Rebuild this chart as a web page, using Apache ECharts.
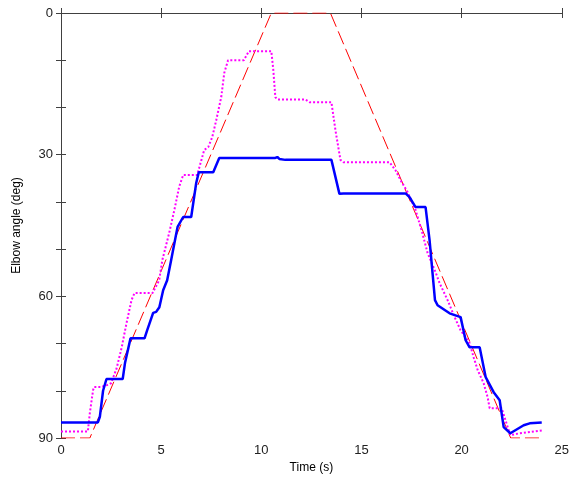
<!DOCTYPE html>
<html>
<head>
<meta charset="utf-8">
<script src="https://cdn.jsdelivr.net/npm/echarts@6/dist/echarts.min.js"></script>
<style>
  html, body { margin: 0; padding: 0; background: #fff; }
  #chart { width: 572px; height: 480px; }
</style>
</head>
<body>
<div id="chart"></div>
<script>
  // reference trajectory (dashed red)
  var refTime  = [0, 1.44, 10.5, 13.45, 22.45, 24];
  var refAngle = [90, 90, 0, 0, 90, 90];

  // measured elbow angle (solid blue)
  var blueTime  = [0, 1.84, 1.94, 2.1, 2.27, 3.08, 3.2, 3.47, 4.17, 4.3, 4.6, 4.75, 4.91, 5.1, 5.3, 5.5, 5.76, 5.82, 6.1, 6.5, 6.75, 6.88, 7.6, 7.9, 10.7, 10.8, 10.9, 11.2, 13.5, 13.9, 14.1, 17.2, 17.4, 17.7, 18.2, 18.4, 18.67, 18.8, 19.4, 19.95, 20.2, 20.4, 20.9, 21.2, 21.6, 21.9, 22.1, 22.43, 23.1, 23.4, 24.0];
  var blueAngle = [86.7, 86.7, 85.5, 80, 77.5, 77.5, 74, 68.9, 68.9, 67.2, 63.5, 63.3, 62.3, 58.7, 56.6, 52.3, 46.6, 45.3, 43.2, 43.2, 36, 33.7, 33.7, 30.7, 30.7, 30.5, 30.9, 31.1, 31.1, 38.3, 38.2, 38.2, 39, 41.1, 41.1, 48.1, 60.8, 61.9, 63.6, 64.4, 69.3, 70.8, 70.8, 77.1, 80.3, 82, 87.7, 89, 87.3, 86.9, 86.7];

  // second measurement (dotted magenta)
  var magTime  = [0, 1.34, 1.44, 1.6, 1.65, 2.0, 2.3, 2.5, 2.78, 3.03, 3.27, 3.52, 3.67, 4.57, 4.9, 5.06, 5.4, 5.66, 5.9, 6.1, 6.8, 7.15, 7.35, 7.55, 7.75, 8.0, 8.15, 8.34, 9.13, 9.38, 10.5, 10.6, 10.7, 10.8, 12.2, 12.4, 13.5, 13.7, 13.95, 14.1, 16.4, 16.7, 16.95, 17.3, 17.7, 18.0, 18.3, 18.7, 18.9, 19.3, 19.65, 19.95, 20.4, 20.6, 20.8, 21.1, 21.3, 21.4, 22.0, 22.3, 22.43, 22.9, 23.3, 24.0];
  var magAngle = [88.6, 88.6, 84.7, 79.9, 79.2, 79.2, 78.8, 78.4, 75.2, 70.8, 65.7, 60.8, 59.3, 59.3, 56.6, 52.3, 46.6, 41.7, 36.8, 34.3, 34.3, 29, 28.4, 26.3, 22.7, 17.8, 12.7, 10, 10, 8.1, 8.1, 12.1, 17.8, 18.3, 18.3, 18.9, 18.9, 24.8, 31.1, 31.6, 31.6, 33.3, 35.4, 37.9, 41.7, 46.0, 50.8, 54.9, 57.2, 60.8, 64.4, 67.2, 69.9, 72.9, 75.6, 78.4, 81.4, 83.7, 83.7, 87.7, 89.4, 89, 88.8, 88.4];

  var yLabels = [0, 30, 60, 90];

  function pairs(t, a) {
    var out = [];
    for (var i = 0; i < t.length; i++) out.push([t[i], a[i]]);
    return out;
  }

  var axisColor = '#404040';
  var font = 'Liberation Sans, Arial, sans-serif';

  var chart = echarts.init(document.getElementById('chart'));
  chart.setOption({
    animation: false,
    grid: {left: 61, right: 7, top: 13, bottom: 42},
    xAxis: [
      {
        type: 'value', min: 0, max: 25, interval: 5,
        name: 'Time (s)', nameLocation: 'middle', nameGap: 21,
        nameTextStyle: {color: '#000', fontSize: 12, fontFamily: font},
        axisLine: {lineStyle: {color: axisColor, width: 1}},
        axisTick: {inside: true, length: 5, lineStyle: {color: axisColor}},
        axisLabel: {color: '#222', fontSize: 13, fontFamily: font, margin: 6},
        splitLine: {show: false}
      },
      {
        type: 'value', min: 0, max: 25, interval: 5, position: 'top',
        axisLine: {lineStyle: {color: axisColor, width: 1}},
        axisTick: {inside: true, length: 5, lineStyle: {color: axisColor}},
        axisLabel: {show: false},
        splitLine: {show: false}
      }
    ],
    yAxis: [
      {
        type: 'value', min: 0, max: 90, interval: 10, inverse: true,
        name: 'Elbow angle (deg)', nameLocation: 'middle', nameGap: 38,
        nameTextStyle: {color: '#000', fontSize: 12, fontFamily: font},
        axisLine: {lineStyle: {color: axisColor, width: 1}},
        axisTick: {inside: true, length: 5, lineStyle: {color: axisColor}},
        axisLabel: {
          color: '#222', fontSize: 13, fontFamily: font, margin: 8,
          formatter: function (v) { return yLabels.indexOf(v) >= 0 ? String(v) : ''; }
        },
        splitLine: {show: false}
      },
      {
        type: 'value', min: 0, max: 90, interval: 10, inverse: true, position: 'right',
        axisLine: {lineStyle: {color: axisColor, width: 1}},
        axisTick: {inside: true, length: 5, lineStyle: {color: axisColor}},
        axisLabel: {show: false},
        splitLine: {show: false}
      }
    ],
    series: [
      {
        type: 'line', data: pairs(refTime, refAngle), showSymbol: false,
        lineStyle: {color: '#ff0000', width: 1, type: [14, 5]}
      },
      {
        type: 'line', data: pairs(magTime, magAngle), showSymbol: false,
        lineStyle: {color: '#ff00ff', width: 2, type: [2, 2]}
      },
      {
        type: 'line', data: pairs(blueTime, blueAngle), showSymbol: false,
        lineStyle: {color: '#0000ff', width: 2.5}
      }
    ]
  });
</script>
</body>
</html>
